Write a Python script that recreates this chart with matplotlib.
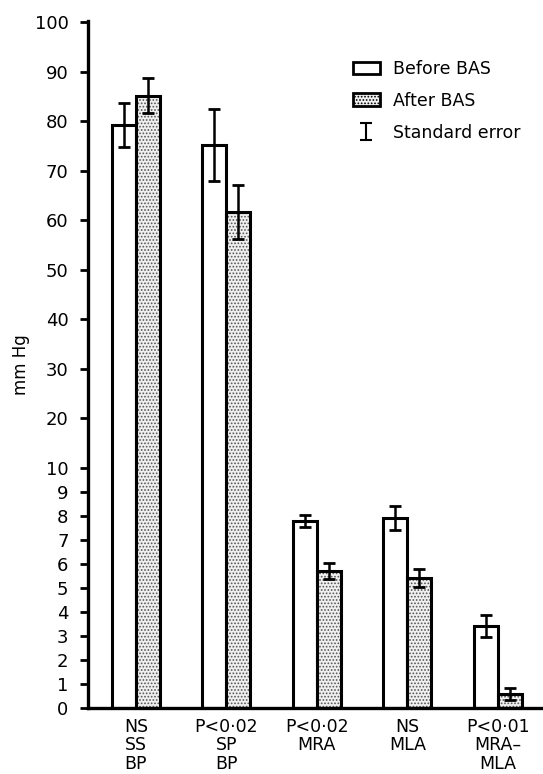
import matplotlib
matplotlib.use("Agg")
import matplotlib.pyplot as plt
import numpy as np
from matplotlib.patches import Patch

# data
groups = ["NS\nSS\nBP", "P<0·02\nSP\nBP", "P<0·02\nMRA", "NS\nMLA", "P<0·01\nMRA–\nMLA"]
before = [79.3, 75.3, 7.8, 7.9, 3.4]
before_se = [4.5, 7.3, 0.25, 0.5, 0.45]
after = [85.2, 61.7, 5.7, 5.4, 0.6]
after_se = [3.5, 5.5, 0.35, 0.37, 0.25]
yticks = [0, 1, 2, 3, 4, 5, 6, 7, 8, 9, 10, 20, 30, 40, 50, 60, 70, 80, 90, 100]


# broken scale: 0-10 stretched, 10-100 compressed
def fwd(y):
    y = np.asarray(y, dtype=float)
    return np.where(y <= 10, y * 24.0, 240.0 + (y - 10) * 4.94)


def inv(v):
    v = np.asarray(v, dtype=float)
    return np.where(v <= 240, v / 24.0, 10 + (v - 240.0) / 4.94)


plt.rcParams['hatch.linewidth'] = 0.8

fig = plt.figure(figsize=(5.43, 7.74), dpi=100)
ax = fig.add_axes([88 / 543, 1 - 708 / 774, 1 - 88 / 543, (708 - 21) / 774])
ax.set_yscale('function', functions=(fwd, inv))

x = np.arange(len(groups))
w = 0.265

# before bars
ax.bar(x - w / 2, before, w, facecolor='white', edgecolor='black', linewidth=2.2, zorder=2)
# after bars: stipple first, then outline
ax.bar(x + w / 2, after, w, facecolor='#f0f0f0', edgecolor='#555555', hatch='.....',
       linewidth=0, zorder=2)
ax.bar(x + w / 2, after, w, facecolor='none', edgecolor='black', linewidth=2.2, zorder=3)

ax.errorbar(x - w / 2, before, yerr=before_se, fmt='none', ecolor='black',
            elinewidth=1.8, capsize=4, capthick=2, zorder=4)
ax.errorbar(x + w / 2, after, yerr=after_se, fmt='none', ecolor='black',
            elinewidth=1.8, capsize=4, capthick=2, zorder=4)

ax.set_xlim(-0.53, 4.5)
ax.set_ylim(0, 100.3)
ax.set_yticks(yticks)
ax.set_yticklabels([str(t) for t in yticks], fontsize=13)
ax.tick_params(axis='y', length=6, width=2, pad=8)
ax.set_xticks(x)
ax.set_xticklabels(groups, fontsize=12.5, linespacing=1.05)
ax.tick_params(axis='x', length=0, pad=7)

for s in ['top', 'right']:
    ax.spines[s].set_visible(False)
ax.spines['left'].set_linewidth(2.4)
ax.spines['bottom'].set_linewidth(2.4)

ax.set_ylabel("mm Hg", fontsize=12)
ax.yaxis.set_label_coords(-0.128, 0.5)

# legend
se_handle = ax.errorbar([np.nan], [np.nan], yerr=[1], fmt='none', ecolor='black',
                        elinewidth=1.5, capsize=4, capthick=1.5)
handles = [
    Patch(facecolor='white', edgecolor='black', linewidth=2),
    Patch(facecolor='#f0f0f0', edgecolor='black', hatch='.....', linewidth=2),
    se_handle,
]
labels = ["Before BAS", "After BAS", "Standard error"]
leg = ax.legend(handles, labels, loc='upper left', bbox_to_anchor=(353 / 543, 1 - 60 / 774),
                bbox_transform=fig.transFigure, frameon=False, fontsize=12.5,
                handlelength=1.55, handleheight=0.75, handletextpad=0.75, labelspacing=0.8,
                borderaxespad=0, borderpad=0)

fig.savefig("out.png", dpi=100)
